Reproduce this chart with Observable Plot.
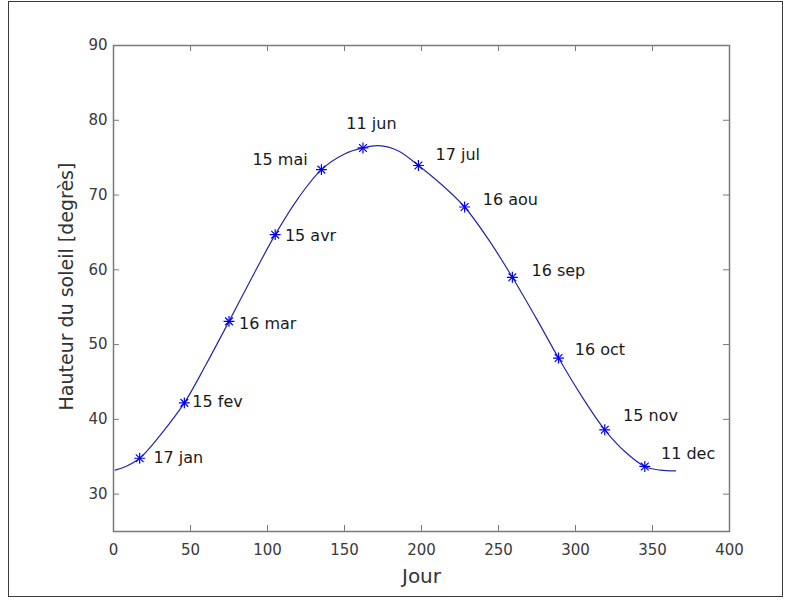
<!DOCTYPE html>
<html><head><meta charset="utf-8">
<script src="https://cdn.jsdelivr.net/npm/d3@7"></script>
<script src="https://cdn.jsdelivr.net/npm/@observablehq/plot@0.6"></script>
<style>
body{margin:0;background:#fff;}
#wrap{position:relative;width:791px;height:600px;}
#border{position:absolute;left:8px;top:1px;width:775px;height:596px;border:1px solid #3a3a3a;box-sizing:border-box;pointer-events:none;}
#chart{position:absolute;left:0;top:0;}
</style></head><body>
<div id="wrap"><div id="chart"></div><div id="border"></div></div>
<script>
// Continuous curve
const curveDay    = [1, 8, 17, 30, 46, 60, 75, 90, 105, 120, 135, 150, 162, 172, 185, 198, 213, 228, 244, 259, 274, 289, 304, 319, 332, 345, 355, 365];
const curveHeight = [33.2, 33.7, 34.8, 37.8, 42.2, 47.3, 53.1, 59.0, 64.7, 69.6, 73.4, 75.5, 76.3, 76.6, 75.9, 73.95, 71.4, 68.4, 63.9, 59.0, 53.7, 48.2, 43.1, 38.6, 35.7, 33.7, 33.2, 33.1];

// Marked days
const markDay    = [17, 46, 75, 105, 135, 162, 198, 228, 259, 289, 319, 345];
const markHeight = [34.8, 42.2, 53.1, 64.7, 73.4, 76.3, 73.95, 68.4, 59.0, 48.2, 38.6, 33.7];
const markLabel  = ["17 jan", "15 fev", "16 mar", "15 avr", "15 mai", "11 jun", "17 jul", "16 aou", "16 sep", "16 oct", "15 nov", "11 dec"];
// Text anchor of each label, in data coordinates (like MATLAB text(x, y, str))
const labelDay    = [25.9, 51.2, 81.5, 111.3, 90.2, 151.2, 209.1, 239.8, 271.4, 299.5, 330.9, 355.5];
const labelHeight = [34.8, 42.3, 52.8, 64.6, 74.7, 79.5, 75.4, 69.3, 59.9, 49.3, 40.5, 35.4];

const xTicks = [0, 50, 100, 150, 200, 250, 300, 350, 400];
const yTicks = [30, 40, 50, 60, 70, 80, 90];
const xTitle = "Jour";
const yTitle = "Hauteur du soleil [degrès]";

const curve = curveDay.map((d, i) => ({day: d, h: curveHeight[i]}));
const points = markDay.map((d, i) => ({day: d, h: markHeight[i]}));
const labels = markLabel.map((t, i) => ({day: labelDay[i], h: labelHeight[i], text: t}));

const W = 791, H = 600, mL = 113, mR = 62, mT = 45, mB = 69;
const iw = W - mL - mR, ih = H - mT - mB;
const axisColor = "#7a7a7a";

const chart = Plot.plot({
  width: W, height: H,
  marginLeft: mL, marginRight: mR, marginTop: mT, marginBottom: mB,
  style: {fontFamily: "'DejaVu Sans', sans-serif", fontSize: "15px", color: "#3a3a3a", background: "transparent"},
  x: {domain: [0, 400]},
  y: {domain: [25, 90]},
  marks: [
    Plot.line(curve, {x: "day", y: "h", stroke: "#2626a8", strokeWidth: 1.2, curve: "catmull-rom"}),
    Plot.dot(points, {x: "day", y: "h", symbol: "plus", r: 3.6, stroke: "#0000f0", fill: "none", strokeWidth: 1.2}),
    Plot.dot(points, {x: "day", y: "h", symbol: "times", r: 3.6, stroke: "#0000f0", fill: "none", strokeWidth: 1.2}),
    Plot.text(labels, {x: "day", y: "h", text: "text", textAnchor: "start", fontSize: 16, fill: "#1a1a1a"}),
    Plot.frame({stroke: axisColor, strokeWidth: 1.5}),
    Plot.tickX(xTicks, {x: d => d, insetTop: ih - 6, stroke: axisColor}),
    Plot.tickX(xTicks, {x: d => d, insetBottom: ih - 6, stroke: axisColor}),
    Plot.tickY(yTicks, {y: d => d, insetRight: iw - 6, stroke: axisColor}),
    Plot.tickY(yTicks, {y: d => d, insetLeft: iw - 6, stroke: axisColor}),
    Plot.axisX(xTicks, {tickSize: 0, tickPadding: 13, label: null}),
    Plot.axisY(yTicks, {tickSize: 0, tickPadding: 6, label: null}),
    Plot.text([xTitle], {text: d => d, frameAnchor: "bottom", lineAnchor: "middle", textAnchor: "middle", dy: 45, fontSize: 20, fill: "#333"}),
    Plot.text([yTitle], {text: d => d, frameAnchor: "left", lineAnchor: "middle", textAnchor: "middle", dx: -47, dy: -2, rotate: -90, fontSize: 19, fill: "#333"})
  ]
});
document.getElementById("chart").appendChild(chart);
</script>
</body></html>
